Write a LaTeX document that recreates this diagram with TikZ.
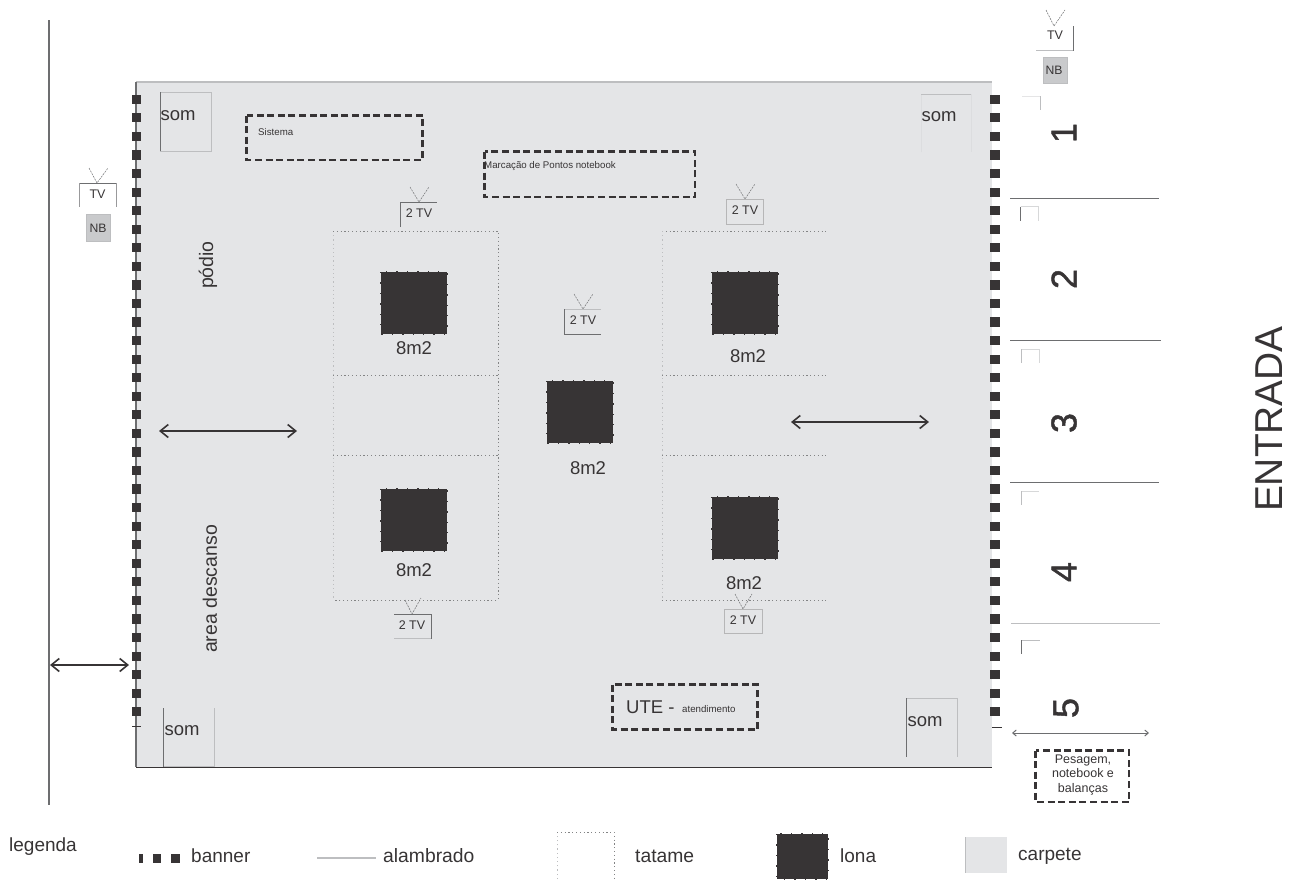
\documentclass[tikz,border=0pt]{standalone}
\usepackage{fontspec}
\setmainfont{Liberation Sans}
\usetikzlibrary{arrows.meta}
\definecolor{ink}{HTML}{373435}
\definecolor{midg}{HTML}{6D6E70}
\definecolor{lightg}{HTML}{BDBEC0}
\definecolor{carpet}{HTML}{E4E5E7}
\definecolor{nbfill}{HTML}{C9CACC}
\newcommand{\fz}[1]{\fontsize{#1}{#1}\selectfont}
\tikzset{
  txt/.style={text=ink,inner sep=0pt,font=\fz{#1}},
  txt/.default=18,
  digit/.style={text=ink,inner sep=0pt,rotate=90,font=\fz{36}\addfontfeature{FakeBold=1.2}},
  dbox/.style={draw=ink,line width=2.8pt,dash pattern=on 7pt off 3.6pt},
  tat/.style={draw=midg!85,line width=0.9pt,dash pattern=on 1.2pt off 2.6pt},
  tatf/.style={draw=lightg,line width=0.9pt,dash pattern=on 1.2pt off 3pt},
  lona/.style={fill=ink},
  lonaedge/.style={draw=ink,line width=1.3pt,dash pattern=on 1.4pt off 9pt},
  ban/.style={fill=ink},
  dk/.style={draw=midg,line width=1pt},
  lt/.style={draw=lightg,line width=1pt},
  fnt/.style={draw=carpet!80!lightg,line width=1pt},
  ant/.style={draw=midg,line width=0.5pt,dash pattern=on 2pt off 1pt},
  dbl/.style={draw=ink,line width=1.4pt,{Straight Barb[length=8pt,width=13pt,line width=1.6pt]}-{Straight Barb[length=8pt,width=13pt,line width=1.6pt]}},
  dbls/.style={draw=midg,line width=1pt,{Straight Barb[length=3.5pt,width=6pt]}-{Straight Barb[length=3.5pt,width=6pt]}},
}
\begin{document}
\begin{tikzpicture}[x=1pt,y=-1pt]
\useasboundingbox (0,0) rectangle (1293,879);
% carpet
\fill[carpet] (136,82) rectangle (992,767);
\draw[lightg,line width=1.2pt] (136,82) -- (992,82);
\draw[midg,line width=1.2pt] (136,82) -- (136,767);
\draw[ink,line width=1.2pt] (136,767.5) -- (992,767.5);
% fence
\draw[midg,line width=1.2pt] (49,20) -- (49,805);
% banners
\foreach \i in {0,...,33}{
  \fill[ban] ({131.5},{99.3+\i*18.56-4.6}) rectangle ++(9,9.2);
  \fill[ban] ({990},{99.3+\i*18.56-4.6}) rectangle ++(9.6,9.2);
}
\draw[ink,line width=0.9pt] (132,726.5) -- (141,726.5);
\draw[ink,line width=0.9pt] (992,727) -- (1002,727);
% som boxes
\draw[lt] (160,92) -- (211,92) -- (211,151) -- (160,151);
\draw[dk] (160,92) -- (160,151);
\node[txt=18.5] (somA) at (178,115.5) {som};
\draw[fnt] (921,152) -- (921,94);
\draw[lt] (921,94) -- (971,94);
\draw[fnt] (971,94) -- (971,152);
\node[txt=18.5] (somB) at (939,117) {som};
\draw[lt] (214,708) -- (214,766) -- (164,766);
\draw[dk] (163.5,708) -- (163.5,767);
\node[txt=18.5] (somC) at (182,731) {som};
\draw[lt] (906,698) -- (957,698) -- (957,757);
\draw[dk] (906,698) -- (906,757);
\node[txt=18.5] (somD) at (925,722) {som};
% dashed boxes
\draw[dbox] (246.5,115.5) rectangle (422.5,160);
\node[txt=9.7,anchor=west] (sis) at (258,132) {Sistema};
\draw[dbox] (484.5,151.5) rectangle (695,197);
\node[txt=9.7,anchor=west] (mar) at (484,166) {Marcação de Pontos notebook};
\draw[dbox] (612.5,684.5) rectangle (757.5,729.5);
\node[txt=18.5,anchor=base west] (ute) at (626,713) {UTE -};
\node[txt=9.7,anchor=base west] (ate) at (682,712) {atendimento};
\draw[dbox] (1035.5,750.5) rectangle (1129,802);
\node[txt=12,align=center,font=\fz{12.5}\selectfont] (pes) at (1083,775) {Pesagem,\\[1.6pt]notebook e\\[1.6pt]balanças};
% tatame
\draw[tatf] (333,231) -- (333,600);
\draw[tat] (333,231) -- (498,231) -- (498,600) -- (333,600);
\draw[tat] (333,375) -- (498,375);
\draw[tat] (333,455) -- (498,455);
\draw[tat] (662,231) -- (826,231);
\draw[tatf] (662,231) -- (662,600);
\draw[tat] (662,600) -- (826,600);
\draw[tat] (662,375) -- (826,375);
\draw[tat] (662,455) -- (826,455);
% lona
\foreach \x/\y/\n in {381/272/a,381/489/b,547/381/c,712/272/d,712/497/e}{
  \fill[lona] (\x,\y) rectangle ++(66,62);
  \draw[lonaedge] (\x,\y) rectangle ++(66,62);
}
\node[txt=18.5] (m1) at (414,348) {8m2};
\node[txt=18.5] (m2) at (414,570) {8m2};
\node[txt=18.5] (m3) at (588,468) {8m2};
\node[txt=18.5] (m4) at (748,356) {8m2};
\node[txt=18.5] (m5) at (744,583) {8m2};
% TV sets
\draw[ant] (89,168) -- (97,183) -- (108,168);
\draw[dk,line width=1pt] (79,183) -- (116,183);
\draw[lt,draw=midg!70] (79,183) -- (79,207);
\draw[lt,draw=midg!70] (116,183) -- (116,207);
\node[txt=12.5] (tvL) at (97.5,194) {TV};
\draw[lightg,fill=nbfill,line width=1pt] (86,214.5) rectangle (110,241.5);
\node[txt=12.2] (nbL) at (98,228) {NB};
\draw[ant] (1046,10) -- (1054,26) -- (1065,10);
\draw[dk] (1073,26) -- (1073,50.5);
\draw[lt] (1036,50.5) -- (1073,50.5);
\node[txt=12.5] (tvR) at (1055,35.5) {TV};
\draw[lightg,fill=nbfill,line width=1pt] (1043,57.5) rectangle (1067,83);
\node[txt=12.2] (nbR) at (1054,70) {NB};
% 2 TV A
\draw[ant] (410,187) -- (419,202) -- (429,187);
\draw[midg,line width=1pt] (400,227) -- (400,202.5) -- (437,202.5);
\node[txt=12.5] (t1) at (419,213) {2 TV};
% 2 TV B
\draw[ant] (736,184) -- (745,199) -- (755,184);
\draw[lt,draw=midg!50] (726,199) rectangle (763.5,224);
\node[txt=12.5] (t2) at (745,210.5) {2 TV};
% 2 TV C
\draw[ant] (574,294) -- (583,309) -- (593,294);
\draw[lt] (564,309) -- (601,309);
\draw[midg,line width=1pt] (564,309) -- (564,334) -- (601,334);
\node[txt=12.5] (t3) at (583,320.5) {2 TV};
% 2 TV D
\draw[ant] (405,600) -- (412,614) -- (421,598);
\draw[midg,line width=1pt] (394,614) -- (431,614) -- (431,638.5);
\draw[lt] (394,638.5) -- (431,638.5);
\node[txt=12.5] (t4) at (412,625) {2 TV};
% 2 TV E
\draw[ant] (735,594) -- (743,609) -- (752,594);
\draw[lt,draw=midg!50] (724,609) rectangle (762,633);
\node[txt=12.5] (t5) at (743,620) {2 TV};
% rotated labels
\node[txt=19.5,rotate=90] (pod) at (208,265) {pódio};
\node[txt=19.5,rotate=90] (are) at (210,589) {area descanso};
% right section
\draw[midg,line width=1pt] (1010,198) -- (1159,198);
\draw[midg,line width=1pt] (1010,340) -- (1161,340);
\draw[midg,line width=0.9pt] (1010,482) -- (1159,482);
\draw[lightg,line width=1pt] (1011,623) -- (1160,623);
\draw[fnt,draw=lightg!40] (1022,96) -- (1040,96);
\draw[lt] (1040,96) -- (1040,110);
\draw[fnt,draw=lightg!60] (1021,206.5) -- (1038.5,206.5) -- (1038.5,221);
\draw[dk] (1020.5,206.5) -- (1020.5,221);
\draw[fnt,draw=lightg!60] (1021,349) -- (1039,349) -- (1039,363);
\draw[lt] (1021,349) -- (1021,363);
\draw[fnt,draw=lightg!60] (1021,491) -- (1039,491);
\draw[lt] (1021,491) -- (1021,505);
\draw[lt] (1021,640) -- (1040,640);
\draw[lt,draw=midg] (1021,640) -- (1021,654);
\node[digit] (n1) at (1064,133) {1};
\node[digit] (n2) at (1064,279) {2};
\node[digit] (n3) at (1064,423) {3};
\node[digit] (n4) at (1064,572) {4};
\node[digit] (n5) at (1066,708) {5};
\node[txt=38.9,rotate=90] (ent) at (1269.5,419) {ENTRADA};
% arrows
\coordinate (a1) at (159,431); \coordinate (a2) at (297,431);
\coordinate (b1) at (791,422); \coordinate (b2) at (929,422);
\coordinate (c1) at (50,665); \coordinate (c2) at (129,665);
\coordinate (d1) at (1012,733); \coordinate (d2) at (1149,733);
\draw[dbl] (a1) -- (a2);
\draw[dbl] (b1) -- (b2);
\draw[dbl] (c1) -- (c2);
\draw[dbls] (d1) -- (d2);
% legend
\node[txt=19,anchor=base west] (leg) at (9,851) {legenda};
\fill[ban] (139,854) rectangle (142.5,863);
\fill[ban] (153,854) rectangle (161,863);
\fill[ban] (170.5,854) rectangle (180,863);
\node[txt=19,anchor=base west] (lban) at (191,862) {banner};
\draw[lightg,line width=1.2pt] (317,858) -- (376,858);
\node[txt=19.3,anchor=base west] (lala) at (383,862) {alambrado};
\draw[tatf] (557,879) -- (557,832);
\draw[tat] (557,832) -- (614,832) -- (614,879);
\node[txt=19.3,anchor=base west] (ltat) at (635,862) {tatame};
\fill[lona] (777,834) rectangle (828,879);
\draw[lonaedge] (777,834) rectangle (828,879);
\node[txt=19,anchor=base west] (llon) at (840,862) {lona};
\fill[carpet] (965,837) rectangle (1007,873);
\draw[lt] (965,837) -- (965,873);
\node[txt=19,anchor=base west] (lcar) at (1018,860) {carpete};
\end{tikzpicture}
\end{document}
